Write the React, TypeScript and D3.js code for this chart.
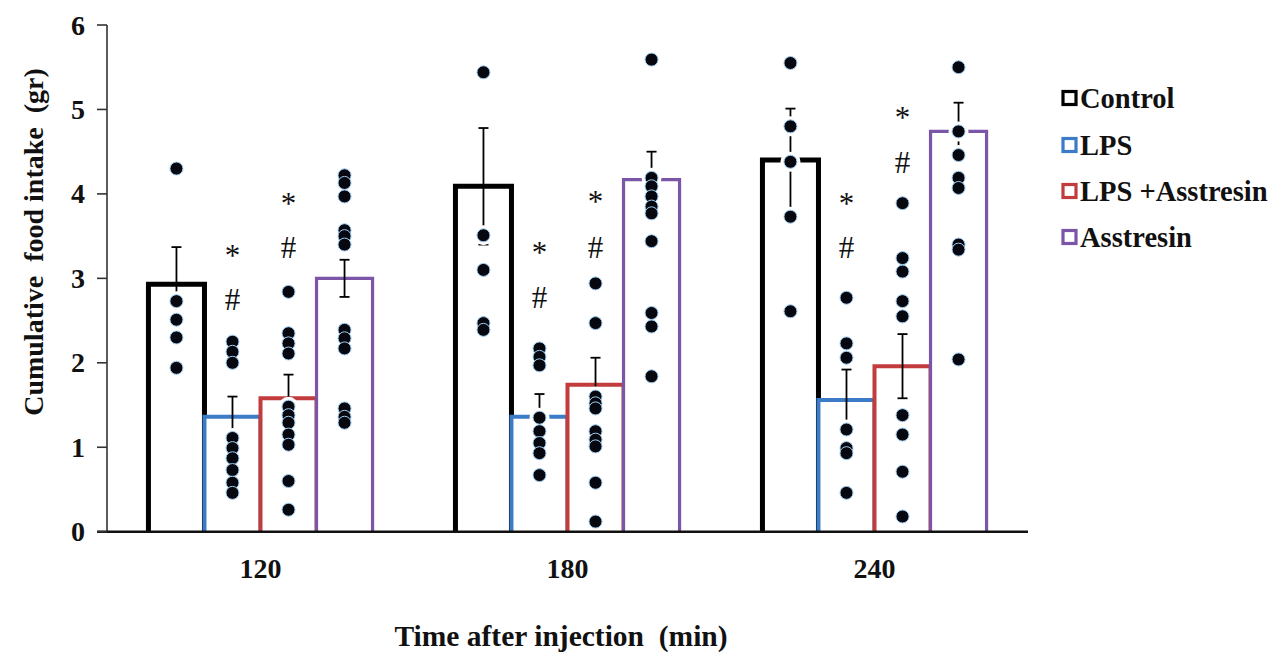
import React from "react";
import * as d3 from "d3";

// ---------- data ----------
const times = ["120", "180", "240"];
const groups = ["Control", "LPS", "LPS +Asstresin", "Asstresin"];
const colors = ["#000000", "#3b7bc8", "#c23b3d", "#7a55a8"];
const yTicks = [0, 1, 2, 3, 4, 5, 6];

const means120 = [2.93, 1.36, 1.58, 3.0];
const means180 = [4.09, 1.36, 1.74, 4.17];
const means240 = [4.4, 1.56, 1.96, 4.74];

const sem120 = [0.44, 0.24, 0.28, 0.22];
const sem180 = [0.69, 0.27, 0.32, 0.33];
const sem240 = [0.61, 0.36, 0.38, 0.34];

const dots120 = [
  [4.3, 2.73, 2.51, 2.3, 1.94],
  [2.25, 2.13, 2.0, 1.11, 0.99, 0.87, 0.73, 0.58, 0.46],
  [2.84, 2.35, 2.23, 2.11, 1.48, 1.38, 1.29, 1.15, 1.03, 0.6, 0.26],
  [4.22, 4.13, 3.97, 3.57, 3.5, 3.4, 2.39, 2.29, 2.17, 1.46, 1.36, 1.29],
];
const dots180 = [
  [5.44, 3.51, 3.1, 2.47, 2.39],
  [2.17, 2.07, 1.97, 1.35, 1.19, 1.05, 0.93, 0.67],
  [2.94, 2.47, 1.6, 1.52, 1.46, 1.19, 1.09, 1.01, 0.58, 0.12],
  [5.59, 4.19, 4.09, 3.97, 3.85, 3.77, 3.44, 2.59, 2.43, 1.84],
];
const dots240 = [
  [5.55, 4.8, 4.38, 3.73, 2.61],
  [2.77, 2.23, 2.06, 1.21, 0.99, 0.93, 0.46],
  [3.89, 3.24, 3.08, 2.73, 2.55, 1.38, 1.15, 0.71, 0.18],
  [5.5, 4.74, 4.46, 4.19, 4.07, 3.4, 3.34, 2.04],
];

// significance marks: [group index, star level, hash level]
const marks120 = [[1, 3.34, 2.75], [2, 3.95, 3.37]];
const marks180 = [[1, 3.37, 2.78], [2, 3.97, 3.37]];
const marks240 = [[1, 3.95, 3.37], [2, 4.97, 4.38]];

const allMeans = [means120, means180, means240];
const allSem = [sem120, sem180, sem240];
const allDots = [dots120, dots180, dots240];
const allMarks = [marks120, marks180, marks240];

// ---------- layout ----------
const W = 1285;
const H = 660;
const X0 = 107;
const X1 = 1028;
const Y0 = 531.7;
const Y6 = 25;
const FONT = "Liberation Serif, Times New Roman, serif";
const strokeW = [5, 4, 4, 3.2];

export default function App() {
  const x = d3.scaleBand<string>().domain(times).range([X0, X1]).paddingInner(0.27).paddingOuter(0.135);
  const xs = d3.scaleBand<string>().domain(groups).range([0, x.bandwidth()]);
  const y = d3.scaleLinear().domain([0, 6]).range([Y0, Y6]);
  const bw = xs.bandwidth();
  const cap = 5;

  return (
    <div style={{ position: "absolute", left: 0, top: 0 }}>
      <svg width={W} height={H} style={{ display: "block", background: "#fff", fontFamily: FONT }}>
        {/* bars */}
        {times.map((t, ti) =>
          groups.map((g, gi) => {
            const x0 = (x(t) as number) + (xs(g) as number);
            const yt = y(allMeans[ti][gi]);
            return (
              <path
                key={`b${t}${g}`}
                d={`M${x0},${Y0}V${yt}H${x0 + bw}V${Y0}`}
                fill="#fff"
                stroke={colors[gi]}
                strokeWidth={strokeW[gi]}
                strokeLinejoin="miter"
              />
            );
          })
        )}
        {/* error bars */}
        {times.map((t, ti) =>
          groups.map((g, gi) => {
            const cx = (x(t) as number) + (xs(g) as number) + bw / 2;
            const m = allMeans[ti][gi];
            const e = allSem[ti][gi];
            const yt = y(m + e);
            const yb = y(m - e);
            return (
              <g key={`e${t}${g}`} stroke="#000" strokeWidth={1.8} fill="none">
                <line x1={cx} x2={cx} y1={yt} y2={yb} />
                <line x1={cx - cap} x2={cx + cap} y1={yt} y2={yt} />
                <line x1={cx - cap} x2={cx + cap} y1={yb} y2={yb} />
              </g>
            );
          })
        )}
        {/* dot halos */}
        {times.map((t, ti) =>
          groups.map((g, gi) => {
            const cx = (x(t) as number) + (xs(g) as number) + bw / 2;
            return allDots[ti][gi].map((v, k) => (
              <circle key={`h${t}${g}${k}`} cx={cx} cy={y(v)} r={10} fill="#fff" />
            ));
          })
        )}
        {/* dots */}
        {times.map((t, ti) =>
          groups.map((g, gi) => {
            const cx = (x(t) as number) + (xs(g) as number) + bw / 2;
            return allDots[ti][gi].map((v, k) => (
              <circle
                key={`d${t}${g}${k}`}
                cx={cx}
                cy={y(v)}
                r={6.5}
                fill="#07070f"
                stroke="#9fcdf0"
                strokeWidth={1}
              />
            ));
          })
        )}
        {/* significance marks */}
        {times.map((t, ti) =>
          allMarks[ti].map((mk, k) => {
            const gi = mk[0];
            const cx = (x(t) as number) + (xs(groups[gi]) as number) + bw / 2;
            return (
              <g key={`m${t}${k}`} fontSize={31} textAnchor="middle" fill="#111" style={{ fontFamily: FONT }}>
                <text x={cx} y={y(mk[1]) + 16}>*</text>
                <text x={cx} y={y(mk[2]) + 11}>#</text>
              </g>
            );
          })
        )}
        {/* axes */}
        <line x1={X0} x2={X0} y1={Y6} y2={Y0} stroke="#333" strokeWidth={1.6} />
        <line x1={X0 - 10} x2={X1} y1={Y0} y2={Y0} stroke="#111" strokeWidth={2.4} />
        {yTicks.map((v) => (
          <g key={`yt${v}`}>
            <line x1={X0 - 10} x2={X0} y1={y(v)} y2={y(v)} stroke="#333" strokeWidth={1.6} />
            <text
              x={85}
              y={y(v) + 9.5}
              textAnchor="end"
              fontSize={28}
              fontWeight="bold"
              fill="#111"
              style={{ fontFamily: FONT }}
            >
              {v}
            </text>
          </g>
        ))}
        {times.map((t) => (
          <text
            key={`xt${t}`}
            x={(x(t) as number) + x.bandwidth() / 2}
            y={578}
            textAnchor="middle"
            fontSize={28}
            fontWeight="bold"
            fill="#111"
            style={{ fontFamily: FONT }}
          >
            {t}
          </text>
        ))}
        <text
          x={561}
          y={646}
          textAnchor="middle"
          fontSize={29.5}
          fontWeight="bold"
          fill="#111"
          style={{ whiteSpace: "pre", fontFamily: FONT }}
        >
          {"Time after injection  (min)"}
        </text>
        <text
          transform={`translate(43,242) rotate(-90)`}
          textAnchor="middle"
          fontSize={28}
          fontWeight="bold"
          fill="#111"
          style={{ whiteSpace: "pre", fontFamily: FONT }}
        >
          {"Cumulative  food intake  (gr)"}
        </text>
        {/* legend */}
        {groups.map((g, gi) => {
          const cy = [98, 145, 191, 237][gi];
          return (
            <g key={`lg${g}`}>
              <rect x={1063} y={cy - 6.5} width={13} height={13} fill="#fff" stroke={colors[gi]} strokeWidth={3.2} />
              <text
                x={1080}
                y={cy + 10}
                fontSize={28.5}
                fontWeight="bold"
                fill="#111"
                style={{ fontFamily: FONT }}
              >
                {g}
              </text>
            </g>
          );
        })}
      </svg>
    </div>
  );
}
